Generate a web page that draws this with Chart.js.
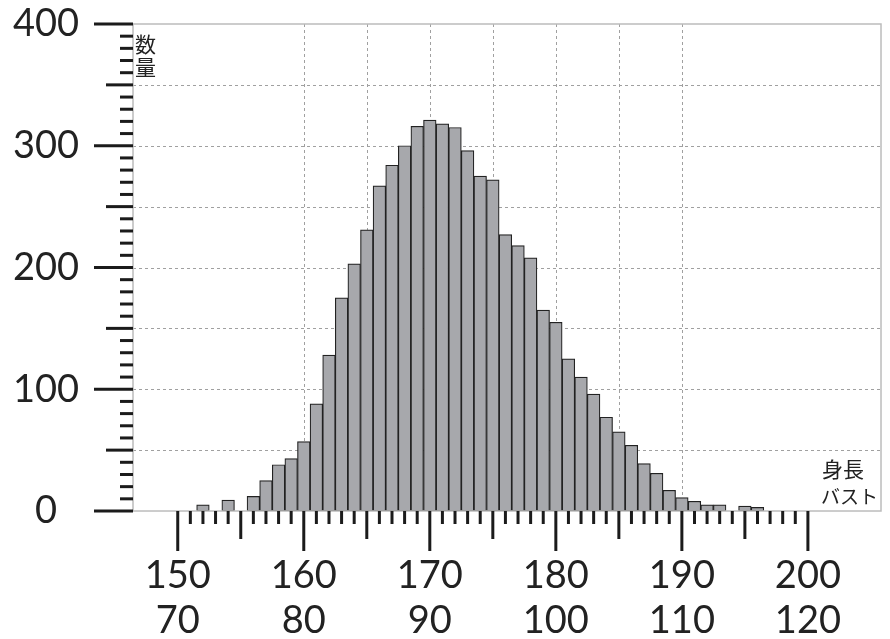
<!DOCTYPE html>
<html>
<head>
<meta charset="utf-8">
<script src="https://cdn.jsdelivr.net/npm/chart.js@4"></script>
<style>
  html, body { margin: 0; padding: 0; background: #fff; }
  #wrap { width: 890px; height: 639px; position: relative; }
</style>
</head>
<body>
<div id="wrap"><canvas id="histChart"></canvas></div>
<script>
// bins (height, cm) and counts
const bins = [152, 153, 154, 155, 156, 157, 158, 159, 160, 161, 162, 163, 164, 165, 166, 167, 168, 169, 170, 171, 172, 173, 174,
              175, 176, 177, 178, 179, 180, 181, 182, 183, 184, 185, 186, 187, 188, 189, 190, 191, 192, 193, 194, 195, 196];
const counts = [5, 0, 9, 0, 12, 25, 38, 43, 57, 88, 128, 175, 203, 231, 267, 284, 300, 316, 321, 318, 315, 296, 275,
                272, 227, 218, 208, 165, 155, 125, 110, 96, 77, 65, 54, 39, 31, 17, 11, 8, 5, 5, 0, 4, 3];

// axis ticks and labels
const xMajorTicks = [150, 160, 170, 180, 190, 200];
const xLabelsHeight = ['150', '160', '170', '180', '190', '200'];
const xLabelsBust = ['70', '80', '90', '100', '110', '120'];
const xGridValues = [160, 165, 170, 175, 180, 185, 190];
const yMajorTicks = [0, 100, 200, 300, 400];
const yLabels = ['0', '100', '200', '300', '400'];
const yGridValues = [50, 100, 150, 200, 250, 300, 350];

const textColor = '#222';
const tickColor = '#1b1b1b';

const axesPlugin = {
    id: 'axesPlugin',
    beforeDatasetsDraw(chart) {
        const { ctx, chartArea: a, scales: { x, y } } = chart;
        ctx.save();
        ctx.strokeStyle = '#a0a0a0';
        ctx.lineWidth = 1;
        ctx.setLineDash([3, 3]);
        yGridValues.forEach(v => {
            const py = Math.round(y.getPixelForValue(v)) + 0.5;
            ctx.beginPath(); ctx.moveTo(a.left, py); ctx.lineTo(a.right, py); ctx.stroke();
        });
        xGridValues.forEach(v => {
            const px = Math.round(x.getPixelForValue(v)) + 0.5;
            ctx.beginPath(); ctx.moveTo(px, a.top); ctx.lineTo(px, a.bottom); ctx.stroke();
        });
        ctx.restore();
    },
    afterDatasetsDraw(chart) {
        const { ctx, chartArea: a, scales: { x, y } } = chart;
        ctx.save();
        // plot box
        ctx.strokeStyle = '#bcbcbc';
        ctx.lineWidth = 1.5;
        ctx.strokeRect(a.left, a.top, a.right - a.left, a.bottom - a.top);

        // x ticks: every 1, medium every 5, long every 10
        ctx.strokeStyle = tickColor;
        ctx.lineWidth = 3;
        for (let v = xMajorTicks[0]; v <= xMajorTicks[xMajorTicks.length - 1]; v++) {
            const px = x.getPixelForValue(v);
            let len = 13;
            if (v % 10 === 0) len = 40;
            else if (v % 5 === 0) len = 28;
            ctx.beginPath(); ctx.moveTo(px, a.bottom); ctx.lineTo(px, a.bottom + len); ctx.stroke();
        }
        // y ticks: every 10, medium every 50, long every 100
        for (let v = yMajorTicks[0]; v <= yMajorTicks[yMajorTicks.length - 1]; v += 10) {
            const py = y.getPixelForValue(v);
            let len = 13;
            if (v % 100 === 0) len = 39;
            else if (v % 50 === 0) len = 27;
            ctx.beginPath(); ctx.moveTo(a.left - len, py); ctx.lineTo(a.left, py); ctx.stroke();
        }

        // tick labels
        ctx.fillStyle = textColor;
        ctx.font = '38px Lato, "Noto Sans", sans-serif';
        ctx.textAlign = 'center';
        ctx.textBaseline = 'middle';
        xMajorTicks.forEach((v, i) => {
            const px = x.getPixelForValue(v);
            ctx.fillText(xLabelsHeight[i], px, 576);
            ctx.fillText(xLabelsBust[i], px, 621);
        });
        yMajorTicks.forEach((v, i) => {
            ctx.fillText(yLabels[i], 46, y.getPixelForValue(v));
        });

        // axis titles
        ctx.textAlign = 'left';
        ctx.font = '21px "Noto Sans CJK JP", sans-serif';
        ctx.fillText('数', a.left + 2, a.top + 20);
        ctx.fillText('量', a.left + 2, a.top + 43);
        ctx.fillText('身長', 822, 469);
        ctx.font = '19px "Noto Sans CJK JP", sans-serif';
        ctx.fillText('バスト', 821, 497);
        ctx.restore();
    }
};

new Chart(document.getElementById('histChart'), {
    type: 'bar',
    data: {
        datasets: [{
            data: bins.map((b, i) => ({ x: b, y: counts[i] })),
            backgroundColor: '#a7a8ac',
            borderColor: '#222',
            borderWidth: 1.2,
            borderSkipped: false,
            barPercentage: 1,
            categoryPercentage: 1
        }]
    },
    options: {
        responsive: true,
        maintainAspectRatio: false,
        animation: false,
        layout: { padding: { left: 133, top: 24, right: 9, bottom: 128 } },
        plugins: { legend: { display: false }, tooltip: { enabled: false } },
        scales: {
            x: { type: 'linear', min: 146.45, max: 205.8, offset: false, display: false },
            y: { min: 0, max: 400, display: false }
        }
    },
    plugins: [axesPlugin]
});
</script>
</body>
</html>
